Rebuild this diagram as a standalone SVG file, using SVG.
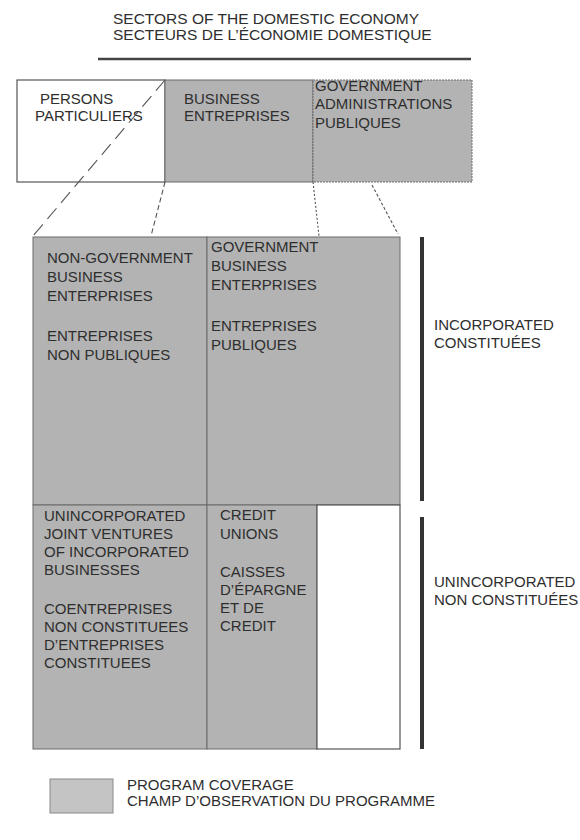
<svg xmlns="http://www.w3.org/2000/svg" width="580" height="840" viewBox="0 0 580 840">
<style>
text{font-family:"Liberation Sans",Arial,Helvetica,sans-serif;font-size:15px;fill:#2e2e2e}
.title{font-size:15.5px}
.cell{fill:#b3b3b3;stroke:#6a6a6a;stroke-width:1}
.white{fill:#ffffff;stroke:#555;stroke-width:1.2}
.con{fill:none;stroke:#555;stroke-width:1.1}
.bar{fill:#333}
</style>
<rect width="580" height="840" fill="#ffffff"/>
<g id="title">
<text class="title" x="113" y="24">SECTORS OF THE DOMESTIC ECONOMY</text>
<text class="title" x="113" y="40">SECTEURS DE L’ÉCONOMIE DOMESTIQUE</text>
<line x1="98" y1="59" x2="471" y2="59" stroke="#444" stroke-width="2.5"/>
</g>
<g id="persons">
<rect class="white" x="17" y="80" width="148" height="102"/>
<text x="40" y="104">PERSONS</text>
<text x="35" y="121">PARTICULIERS</text>
</g>
<g id="business">
<rect class="cell" x="165" y="80" width="148" height="102"/>
<text x="184" y="104">BUSINESS</text>
<text x="184" y="121">ENTREPRISES</text>
</g>
<g id="government">
<rect class="cell" x="313" y="80" width="159" height="102" stroke-dasharray="2 1"/>
<text x="315" y="91">GOVERNMENT</text>
<text x="315" y="109">ADMINISTRATIONS</text>
<text x="315" y="128">PUBLIQUES</text>
</g>
<g id="connectors">
<line class="con" x1="165" y1="80" x2="33" y2="236" stroke-dasharray="14 7"/>
<line class="con" x1="165" y1="182" x2="151" y2="236" stroke-dasharray="5 3" stroke-width="0.9"/>
<line class="con" x1="313" y1="182" x2="319" y2="236" stroke="#999" stroke-width="2" stroke-dasharray="2 2"/>
<line class="con" x1="372" y1="185" x2="398" y2="234" stroke-dasharray="3 2" stroke-width="0.9"/>
</g>
<g id="non-government-business">
<rect class="cell" x="33" y="237" width="174" height="268" stroke="#444" stroke-width="1.3"/>
<text x="47" y="263">NON-GOVERNMENT</text>
<text x="47" y="282">BUSINESS</text>
<text x="47" y="301">ENTERPRISES</text>
<text x="47" y="341">ENTREPRISES</text>
<text x="47" y="360">NON PUBLIQUES</text>
</g>
<g id="government-business">
<rect class="cell" x="207" y="237" width="193" height="268"/>
<text x="211" y="252">GOVERNMENT</text>
<text x="211" y="271">BUSINESS</text>
<text x="211" y="290">ENTERPRISES</text>
<text x="211" y="331">ENTREPRISES</text>
<text x="211" y="350">PUBLIQUES</text>
</g>
<g id="joint-ventures">
<rect class="cell" x="33" y="505" width="174" height="244" stroke="#444"/>
<text x="44" y="521">UNINCORPORATED</text>
<text x="44" y="539">JOINT VENTURES</text>
<text x="44" y="557">OF INCORPORATED</text>
<text x="44" y="575">BUSINESSES</text>
<text x="44" y="614">COENTREPRISES</text>
<text x="44" y="632">NON CONSTITUEES</text>
<text x="44" y="650">D’ENTREPRISES</text>
<text x="44" y="668">CONSTITUEES</text>
</g>
<g id="credit-unions">
<rect class="cell" x="207" y="505" width="110" height="244"/>
<text x="220" y="520">CREDIT</text>
<text x="220" y="539">UNIONS</text>
<text x="220" y="577">CAISSES</text>
<text x="220" y="595">D’ÉPARGNE</text>
<text x="220" y="613">ET DE</text>
<text x="220" y="631">CREDIT</text>
</g>
<g id="uncovered">
<rect class="white" x="317" y="505" width="83" height="244" stroke="#666" stroke-width="1"/>
</g>
<g id="incorporated">
<rect class="bar" x="420" y="237" width="4" height="264"/>
<text x="434" y="330">INCORPORATED</text>
<text x="434" y="348">CONSTITUÉES</text>
</g>
<g id="unincorporated">
<rect class="bar" x="420" y="517" width="4" height="232"/>
<text x="434" y="587">UNINCORPORATED</text>
<text x="434" y="605">NON CONSTITUÉES</text>
</g>
<g id="legend">
<rect x="50" y="779" width="63" height="34" fill="#c4c4c4" stroke="#8a8a8a" stroke-width="1"/>
<text x="127" y="790">PROGRAM COVERAGE</text>
<text x="127" y="806">CHAMP D’OBSERVATION DU PROGRAMME</text>
</g>
</svg>
